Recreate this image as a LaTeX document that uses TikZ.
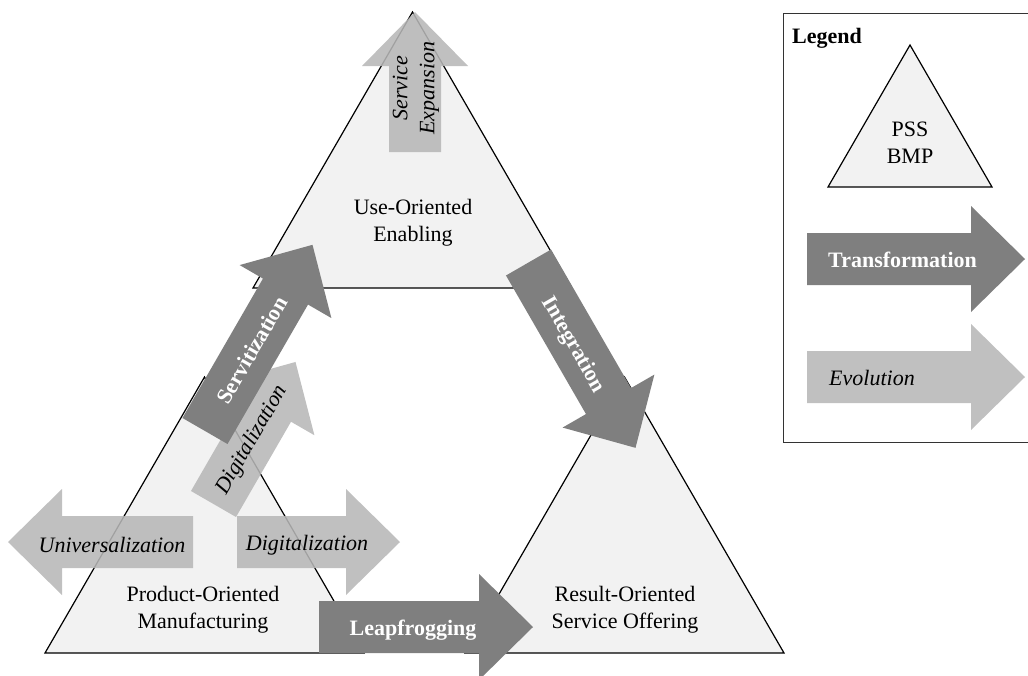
\documentclass[tikz,border=0pt]{standalone}
\usepackage{fontspec}
\setmainfont{Liberation Serif}
\definecolor{trifill}{HTML}{F2F2F2}
\definecolor{trfgray}{HTML}{7F7F7F}
\definecolor{evogray}{HTML}{B7B7B7}
\tikzset{
  txt/.style={font=\fontsize{22}{27}\selectfont, align=center, inner sep=0pt},
  trftxt/.style={txt, font=\fontsize{22}{27}\selectfont\bfseries, text=white},
  evotxt/.style={txt, font=\fontsize{22}{27}\selectfont\itshape},
  psstri/.style={draw=black, fill=trifill, line width=1.2pt},
  trfarrow/.style={fill=trfgray},
  evoarrow/.style={fill=evogray, fill opacity=0.88},
}
% block arrow: style, tail x, tail y, angle, length
\newcommand{\blockarrow}[5]{%
  \fill[#1, shift={(#2,#3)}, rotate=#4] (0,-26) -- (#5-54,-26) -- (#5-54,-53)
    -- (#5,0) -- (#5-54,53) -- (#5-54,26) -- (0,26) -- cycle;}
\begin{document}
\begin{tikzpicture}[x=1pt,y=-1pt]
\useasboundingbox (0,0) rectangle (1028,675);
% business model triangles
\path[psstri] (253,288) -- (572,288) -- (412.5,12) -- cycle;
\path[psstri] (45,653) -- (364,653) -- (204.5,377) -- cycle;
\path[psstri] (465,653) -- (784,653) -- (624.5,377) -- cycle;
\node[txt] (use) at (413,223) {Use-Oriented\\Enabling};
\node[txt] (product) at (203,610) {Product-Oriented\\Manufacturing};
\node[txt] (result) at (625,610) {Result-Oriented\\Service Offering};
% evolution arrows
\blockarrow{evoarrow}{415}{152}{90}{140}
\blockarrow{evoarrow}{213.5}{504}{60}{164}
\blockarrow{evoarrow}{193}{542}{180}{185}
\blockarrow{evoarrow}{237}{542}{0}{163}
\node[evotxt, rotate=90] (expansion) at (416,88) {Service\\Expansion};
\node[evotxt, rotate=60] (digital1) at (252,440) {Digitalization};
\node[evotxt] (universal) at (112,545) {Universalization};
\node[evotxt] (digital2) at (307,545) {Digitalization};
% transformation arrows
\blockarrow{trfarrow}{205}{431}{60}{215}
\blockarrow{trfarrow}{528.5}{262.5}{-60}{214}
\blockarrow{trfarrow}{319}{627}{0}{214}
\node[trftxt, rotate=60] (servitization) at (252,350) {Servitization};
\node[trftxt, rotate=-60] (integration) at (573,345) {Integration};
\node[trftxt] (leapfrogging) at (413,630) {Leapfrogging};
% legend
\draw[line width=1pt, black!80] (1028,13) -- (783,13) -- (783,442) -- (1028,442);
\node[txt, font=\fontsize{22}{27}\selectfont\bfseries, anchor=base west] (legend) at (792,43) {Legend};
\path[psstri] (828,187) -- (992,187) -- (910,45) -- cycle;
\node[txt] (pss) at (910,143) {PSS\\BMP};
\blockarrow{trfarrow}{807}{259}{0}{218}
\blockarrow{evoarrow}{807}{377}{0}{218}
\node[trftxt, anchor=west] (transformation) at (828,260) {Transformation};
\node[evotxt, anchor=west] (evolution) at (829,378) {Evolution};
\end{tikzpicture}
\end{document}
